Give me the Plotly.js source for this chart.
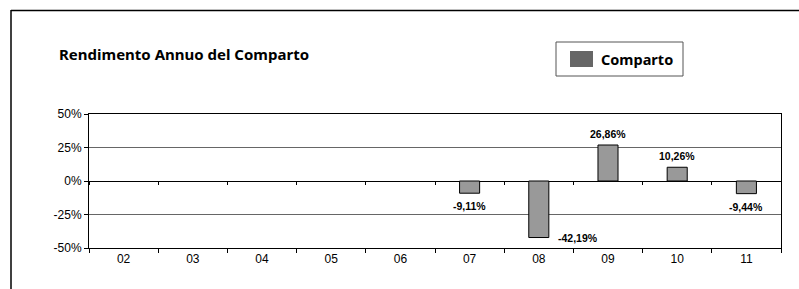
<!DOCTYPE html>
<html>
<head>
<meta charset="utf-8">
<script src="https://cdn.plot.ly/plotly-3.0.1.min.js"></script>
<style>
html,body{margin:0;padding:0;background:#fff;}
#chart{width:799px;height:289px;}
</style>
</head>
<body>
<div id="chart"></div>
<script>
// ---- data ----
const categories = ['02','03','04','05','06','07','08','09','10','11'];
const comparto   = [null, null, null, null, null, -9.11, -42.19, 26.86, 10.26, -9.44];
const seriesName = 'Comparto';
const yTicks     = [-50, -25, 0, 25, 50];
const titleText  = 'Rendimento Annuo del Comparto';

// ---- layout geometry (pixels) ----
const W = 799, H = 289;
const L = 89, R = 781, T = 114, B = 248;
const pw = R - L, ph = B - T;
const px = x => (x - L) / pw;
const py = y => (B - y) / ph;

const fmt = v => v.toFixed(2).replace('.', ',') + '%';

const trace = {
  type: 'bar',
  x: categories,
  y: comparto,
  name: seriesName,
  width: 0.29,
  marker: {color: '#999999', line: {color: '#000000', width: 1}},
  showlegend: false,
  hoverinfo: 'none',
  cliponaxis: false
};

const annotations = [];
categories.forEach((c, i) => {
  const v = comparto[i];
  if (v === null) return;
  // category axis: use the category index as position
  const a = {
    x: i, y: v, xref: 'x', yref: 'y', text: fmt(v), showarrow: false,
    font: {family: 'Liberation Sans, Arial, sans-serif', size: 10.5, color: '#000', weight: 'bold'}
  };
  if (v >= 0) { a.yanchor = 'bottom'; a.yshift = 3; }
  else if (v < -35) { a.yanchor = 'middle'; a.xanchor = 'left'; a.xshift = 17; }
  else { a.yanchor = 'top'; a.yshift = -5; }
  annotations.push(a);
});

// legend text
annotations.push({
  xref: 'paper', yref: 'paper', x: px(599), y: py(59),
  xanchor: 'left', yanchor: 'middle', showarrow: false, text: seriesName,
  font: {family: 'Noto Sans, Open Sans, sans-serif', size: 14.5, color: '#000', weight: 'bold'}
});

const shapes = [
  // outer frame (top & left)
  {type: 'line', xref: 'paper', yref: 'paper', x0: px(11), x1: px(W + 2), y0: py(10.5), y1: py(10.5), line: {color: '#000', width: 1.5}},
  {type: 'line', xref: 'paper', yref: 'paper', x0: px(11), x1: px(11), y0: py(10), y1: py(H + 2), line: {color: '#000', width: 1.5}},
  // legend box
  {type: 'rect', xref: 'paper', yref: 'paper', x0: px(556), x1: px(683), y0: py(42), y1: py(76), line: {color: '#555', width: 1}, fillcolor: 'rgba(0,0,0,0)'},
  // legend swatch
  {type: 'rect', xref: 'paper', yref: 'paper', x0: px(570), x1: px(593), y0: py(51), y1: py(67), line: {width: 0}, fillcolor: '#666666'}
];

const tickFont = {family: 'Liberation Sans, Arial, sans-serif', size: 12, color: '#000'};

const layout = {
  width: W, height: H,
  margin: {l: L, r: W - R, t: T, b: H - B, pad: 0},
  paper_bgcolor: '#fff', plot_bgcolor: '#fff',
  showlegend: false,
  title: {
    text: titleText, xref: 'container', yref: 'container',
    x: 59 / W, xanchor: 'left', y: 1 - 55 / H, yanchor: 'middle',
    font: {family: 'Noto Sans, Open Sans, sans-serif', size: 15, color: '#000', weight: 'bold'}
  },
  xaxis: {
    type: 'category', categoryarray: categories, range: [-0.5, categories.length - 0.5],
    tickson: 'boundaries', ticks: 'outside', ticklen: 4, tickcolor: '#000', tickwidth: 1,
    showline: true, linecolor: '#000', linewidth: 1, mirror: true,
    showgrid: false, tickfont: tickFont, fixedrange: true
  },
  xaxis2: {
    overlaying: 'x', anchor: 'free', position: 0.5, side: 'bottom',
    type: 'linear', range: [-0.5, categories.length - 0.5],
    tick0: 0.5, dtick: 1, ticks: 'outside', ticklen: 3, tickcolor: '#000', tickwidth: 1,
    showticklabels: false, showline: false, showgrid: false, zeroline: false, fixedrange: true
  },
  yaxis: {
    range: [yTicks[0], yTicks[yTicks.length - 1]], tickvals: yTicks,
    ticktext: yTicks.map(v => v + '%'),
    ticks: 'outside', ticklen: 4, tickcolor: '#000',
    showline: true, linecolor: '#000', linewidth: 1, mirror: true,
    showgrid: true, gridcolor: '#666666', gridwidth: 1,
    zeroline: true, zerolinecolor: '#000', zerolinewidth: 1,
    tickfont: tickFont, fixedrange: true
  },
  annotations: annotations,
  shapes: shapes
};

// dummy trace to instantiate xaxis2
const dummy = {type: 'scatter', x: [], y: [], xaxis: 'x2', yaxis: 'y', showlegend: false, hoverinfo: 'none'};

Plotly.newPlot('chart', [trace, dummy], layout, {staticPlot: true, displayModeBar: false});
</script>
</body>
</html>
